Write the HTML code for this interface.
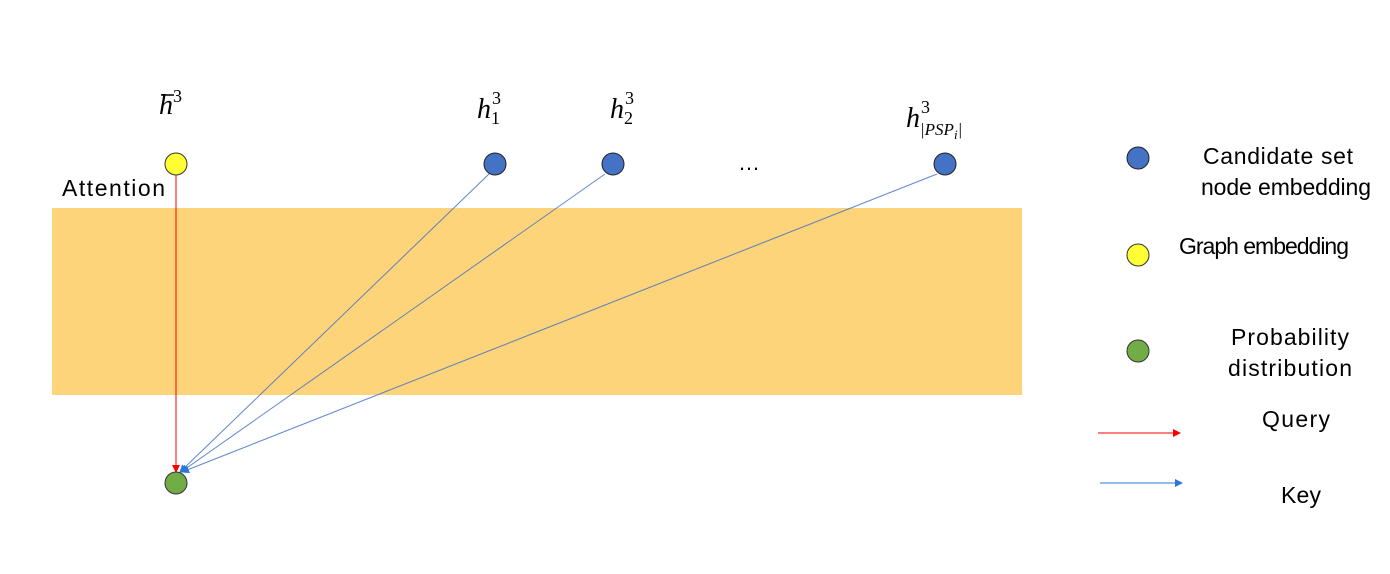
<!DOCTYPE html>
<html><head><meta charset="utf-8"><style>
html,body{margin:0;padding:0;background:#fff;}
svg{display:block;}
text{font-family:"Liberation Sans",sans-serif;fill:#000;}
.m{font-family:"Liberation Serif",serif;font-style:italic;}
</style></head><body>
<svg width="1390" height="574" viewBox="0 0 1390 574">
<defs>
<marker id="ar" markerWidth="8" markerHeight="8" refX="7" refY="4" orient="auto" markerUnits="userSpaceOnUse"><path d="M0,0 L8,4 L0,8 z" fill="#FF0000"/></marker>
<marker id="ab" markerWidth="8" markerHeight="8" refX="7" refY="4" orient="auto" markerUnits="userSpaceOnUse"><path d="M0,0 L8,4 L0,8 z" fill="#2E75D6"/></marker>
</defs>
<rect x="52" y="208" width="970" height="187" fill="#FDD479"/>
<text x="62" y="196" font-size="23" textLength="103">Attention</text>
<line x1="176" y1="175" x2="176" y2="472" stroke="#FF0000" stroke-width="1" marker-end="url(#ar)"/>
<line x1="489" y1="174" x2="180" y2="472" stroke="#4472C4" stroke-width="1" stroke-opacity="0.85" marker-end="url(#ab)"/>
<line x1="605" y1="174" x2="181" y2="472" stroke="#4472C4" stroke-width="1" stroke-opacity="0.85" marker-end="url(#ab)"/>
<line x1="937" y1="174" x2="182" y2="472" stroke="#4472C4" stroke-width="1" stroke-opacity="0.85" marker-end="url(#ab)"/>
<circle cx="176" cy="164" r="11" fill="#FFFF33" stroke="#333" stroke-width="1"/>
<circle cx="495" cy="164" r="11" fill="#4472C4" stroke="#222" stroke-width="1"/>
<circle cx="613" cy="164" r="11" fill="#4472C4" stroke="#222" stroke-width="1"/>
<circle cx="945" cy="164" r="11" fill="#4472C4" stroke="#222" stroke-width="1"/>
<circle cx="176" cy="483" r="11" fill="#70AD47" stroke="#333" stroke-width="1"/>
<text x="738" y="170" font-size="22">…</text>
<g>
<text class="m" x="159" y="114" font-size="28">h<tspan font-size="18" dy="-12" font-style="normal">3</tspan></text>
<line x1="161" y1="95" x2="174" y2="95" stroke="#000" stroke-width="1.5"/>
<text class="m" x="477" y="118" font-size="28">h<tspan font-size="18" dx="1" dy="-14" font-style="normal">3</tspan><tspan font-size="18" dx="-10" dy="20" font-style="normal">1</tspan></text>
<text class="m" x="610" y="118" font-size="28">h<tspan font-size="18" dx="1" dy="-14" font-style="normal">3</tspan><tspan font-size="18" dx="-10" dy="20" font-style="normal">2</tspan></text>
<text class="m" x="906" y="127" font-size="28">h<tspan font-size="18" dx="1" dy="-14" font-style="normal">3</tspan><tspan font-size="17" dx="-10" dy="22">|PSP</tspan><tspan font-size="13" dy="4">i</tspan><tspan font-size="17" dy="-4">|</tspan></text>
</g>
<circle cx="1138" cy="158" r="11" fill="#4472C4" stroke="#222"/>
<text x="1278" y="164" font-size="23" text-anchor="middle" textLength="150">Candidate set</text>
<text x="1286" y="195" font-size="23" text-anchor="middle" textLength="170">node embedding</text>
<circle cx="1138" cy="255" r="11" fill="#FFFF33" stroke="#333"/>
<text x="1264" y="254" font-size="23" text-anchor="middle" textLength="170">Graph embedding</text>
<circle cx="1138" cy="351" r="11" fill="#70AD47" stroke="#333"/>
<text x="1290" y="345" font-size="23" text-anchor="middle" textLength="118">Probability</text>
<text x="1290" y="376" font-size="23" text-anchor="middle" textLength="124">distribution</text>
<line x1="1098" y1="433" x2="1180" y2="433" stroke="#FF0000" marker-end="url(#ar)"/>
<text x="1296" y="427" font-size="23" text-anchor="middle" textLength="68">Query</text>
<line x1="1100" y1="483" x2="1182" y2="483" stroke="#2E75D6" marker-end="url(#ab)"/>
<text x="1301" y="503" font-size="23" text-anchor="middle" textLength="40">Key</text>
</svg>
</body></html>
